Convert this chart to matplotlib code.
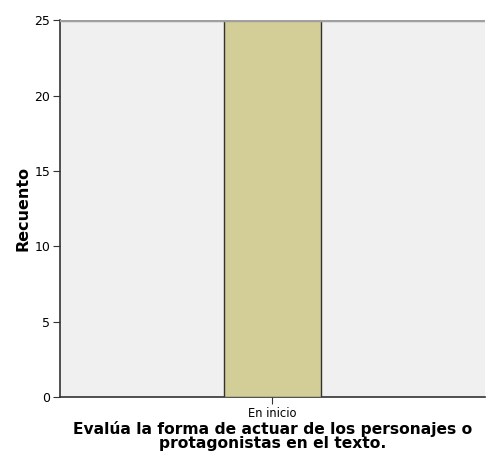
import matplotlib.pyplot as plt

# data
categorias = ['En inicio']
recuento = [25]
yticks = [0, 5, 10, 15, 20, 25]

fig = plt.figure(figsize=(4.87, 4.59), dpi=100)
ax = fig.add_axes([0.123, 0.135, 0.873, 0.821])
ax.set_facecolor('#f0f0f0')

ax.bar(range(len(categorias)), recuento, width=0.23, color='#d3ce97',
       edgecolor='#333333', linewidth=1.0, zorder=3)

ax.set_xlim(-0.5, 0.5)
ax.set_ylim(0, 25)
ax.set_yticks(yticks)
ax.set_xticks(range(len(categorias)))
ax.set_xticklabels(categorias, fontsize=8.3)
ax.tick_params(axis='y', labelsize=9, length=5, color='#333333', pad=2)
ax.tick_params(axis='x', length=5, color='#333333', pad=2)

# top line at max
ax.axhline(25, color='#a0a0a0', linewidth=2.5, zorder=4)

for s in ['top', 'right']:
    ax.spines[s].set_visible(False)
ax.spines['left'].set_color('#333333')
ax.spines['bottom'].set_color('#333333')
ax.spines['left'].set_linewidth(1.2)
ax.spines['bottom'].set_linewidth(1.2)

ax.set_ylabel('Recuento', fontsize=11.5, fontweight='bold', labelpad=3)
ax.set_xlabel('Evalúa la forma de actuar de los personajes o\nprotagonistas en el texto.',
              fontsize=11.2, fontweight='bold', linespacing=0.92, labelpad=1)

fig.savefig('out.png', dpi=100)
